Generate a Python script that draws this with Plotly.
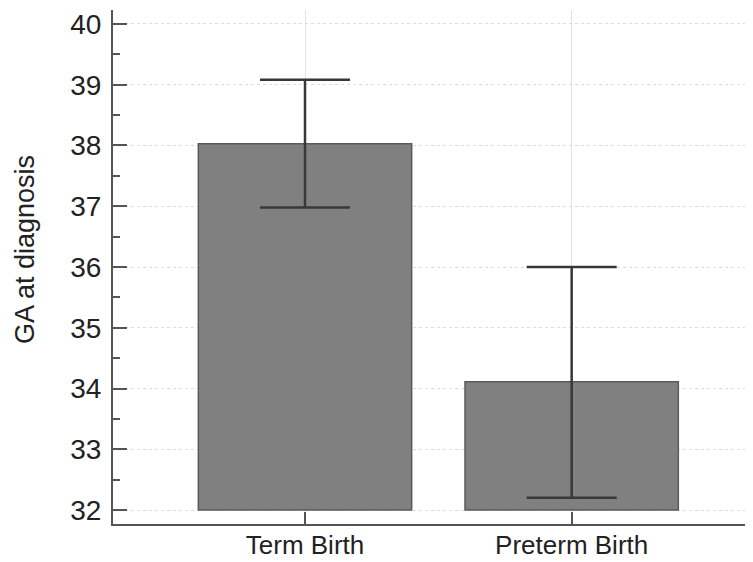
import plotly.graph_objects as go

categories = ["Term Birth", "Preterm Birth"]
means = [38.03, 34.11]
err_plus = [1.05, 1.89]
err_minus = [1.05, 1.91]
baseline = 32
y_ticks = [32, 33, 34, 35, 36, 37, 38, 39, 40]
y_title = "GA at diagnosis"

fig = go.Figure()
fig.add_trace(go.Bar(
    x=categories,
    y=[m - baseline for m in means],
    base=[baseline] * len(means),
    width=0.8,
    marker=dict(color="#808080", line=dict(color="#5a5a5a", width=1.5)),
    showlegend=False,
    hoverinfo="skip",
))
fig.add_trace(go.Scatter(
    x=categories,
    y=means,
    mode="markers",
    marker=dict(size=1, color="rgba(0,0,0,0)"),
    error_y=dict(type="data", symmetric=False, array=err_plus, arrayminus=err_minus,
                 color="#383838", thickness=2.5, width=45),
    showlegend=False,
    hoverinfo="skip",
))

font_family = "Liberation Sans, Arial, sans-serif"
fig.update_layout(
    width=745, height=554,
    margin=dict(l=105, r=0, t=2, b=38),
    plot_bgcolor="white", paper_bgcolor="white",
    font=dict(family=font_family, color="#222222"),
    xaxis=dict(
        type="category", range=[-0.72, 1.68],
        showline=True, linecolor="#555555", linewidth=2,
        ticks="inside", ticklen=12, tickwidth=2, tickcolor="#555555",
        tickfont=dict(size=26, color="#222222"),
        ticklabelstandoff=-3,
        showgrid=True, gridcolor="#e2e2e2", gridwidth=1,
        zeroline=False, automargin=False,
    ),
    yaxis=dict(
        range=[31.77, 40.23],
        tickvals=y_ticks,
        showline=True, linecolor="#555555", linewidth=2,
        ticks="inside", ticklen=14, tickwidth=2, tickcolor="#555555",
        tickfont=dict(size=28, color="#222222"),
        ticklabelstandoff=4,
        minor=dict(dtick=0.5, ticks="inside", ticklen=7, tickwidth=2, tickcolor="#555555", showgrid=False),
        showgrid=True, gridcolor="#dcdcdc", gridwidth=1, griddash="dot",
        zeroline=False, automargin=False,
    ),
    annotations=[dict(
        text=y_title, xref="paper", yref="paper", x=-105 / 640, y=0.533,
        xanchor="left", yanchor="middle", textangle=-90, showarrow=False,
        font=dict(size=27, color="#222222"),
    )],
    bargap=0.2,
)

fig.write_html("out.html")
